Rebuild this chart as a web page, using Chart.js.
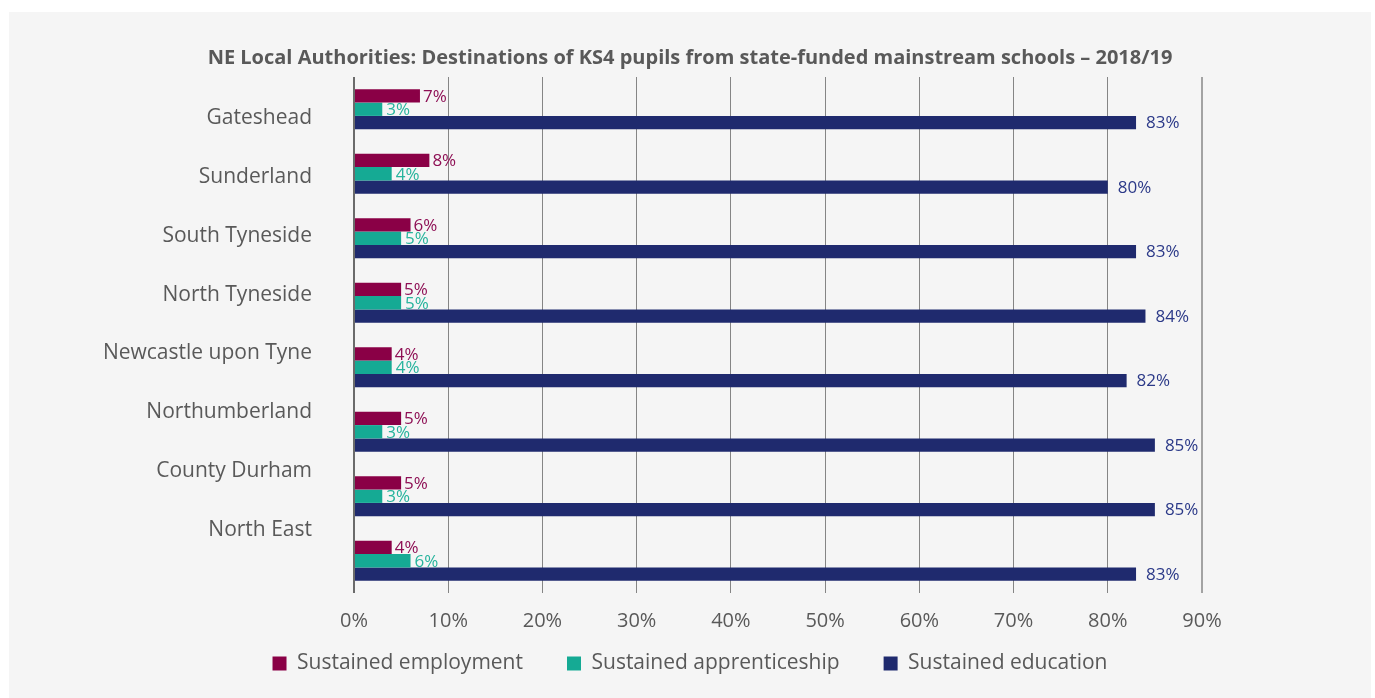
<!DOCTYPE html>
<html>
<head>
<meta charset="utf-8">
<script src="https://cdn.jsdelivr.net/npm/chart.js@4"></script>
<style>
    body { margin: 0; background: #ffffff; }
    #wrap { position: absolute; left: 9px; top: 12px; width: 1362px; height: 686px; background: #f5f5f5; }
</style>
</head>
<body>
<div id="wrap"><canvas id="chartDestinos"></canvas></div>
<script>
const areas = ['Gateshead', 'Sunderland', 'South Tyneside', 'North Tyneside', 'Newcastle upon Tyne', 'Northumberland', 'County Durham', 'North East']
const employment = [7, 8, 6, 5, 4, 5, 5, 4]
const apprenticeship = [3, 4, 5, 5, 4, 3, 3, 6]
const education = [83, 80, 83, 84, 82, 85, 85, 83]
const xTicks = [0, 10, 20, 30, 40, 50, 60, 70, 80, 90]

const chartDestinos = document.getElementById('chartDestinos')
const FONT = "'Open Sans', sans-serif"
const GREY = '#595959'

// etiquetas de valor ao lado das barras
const valueLabels = {
    id: 'valueLabels',
    afterDatasetsDraw(chart) {
        const ctx = chart.ctx
        ctx.save()
        ctx.font = '17px ' + FONT
        ctx.textBaseline = 'middle'
        ctx.textAlign = 'left'
        chart.data.datasets.forEach((ds, i) => {
            const meta = chart.getDatasetMeta(i)
            meta.data.forEach((bar, j) => {
                ctx.fillStyle = ds.labelColor
                ctx.fillText(ds.data[j] + '%', bar.x + ds.labelGap, bar.y + 1)
            })
        })
        ctx.restore()
    }
}

new Chart(chartDestinos, {
    type: 'bar',
    data: {
        labels: areas,
        datasets: [{
            label: 'Sustained employment',
            data: employment,
            backgroundColor: '#8a0046',
            labelColor: '#8e1055',
            labelGap: 3
        }, {
            label: 'Sustained apprenticeship',
            data: apprenticeship,
            backgroundColor: '#15aa94',
            labelColor: '#27b49d',
            labelGap: 4
        }, {
            label: 'Sustained education',
            data: education,
            backgroundColor: '#1f2a6e',
            labelColor: '#2b3988',
            labelGap: 10
        }]
    },
    options: {
        indexAxis: 'y',
        maintainAspectRatio: false,
        animation: false,
        categoryPercentage: 0.62,
        barPercentage: 1,
        layout: {
            padding: { left: 0, right: 0, top: 0, bottom: 14 }
        },
        plugins: {
            title: {
                display: true,
                text: 'NE Local Authorities: Destinations of KS4 pupils from state-funded mainstream schools – 2018/19',
                color: GREY,
                font: { family: FONT, size: 20, weight: 'bold' },
                padding: { top: 34, bottom: 7 }
            },
            legend: {
                position: 'bottom',
                labels: {
                    color: GREY,
                    font: { family: FONT, size: 21 },
                    boxWidth: 14,
                    boxHeight: 14,
                    padding: 44
                }
            },
            tooltip: { enabled: false }
        },
        scales: {
            x: {
                min: 0,
                max: 90,
                afterBuildTicks: (scale) => { scale.ticks = xTicks.map(v => ({ value: v })) },
                afterFit: (scale) => { scale.height = 16 },
                ticks: {
                    color: GREY,
                    font: { family: FONT, size: 20 },
                    mirror: true,
                    padding: -40,
                    callback: (v) => v + '%'
                },
                grid: {
                    drawTicks: false,
                    color: (c) => c.tick && c.tick.value === 0 ? '#6b6b6b' : (c.tick && c.tick.value === 90 ? '#a3a3a3' : '#858585'),
                    lineWidth: (c) => c.tick && (c.tick.value === 0 || c.tick.value === 90) ? 2 : 1
                },
                border: { display: false }
            },
            y: {
                display: false
            },
            y2: {
                type: 'linear',
                position: 'left',
                reverse: true,
                offset: false,
                min: -0.695,
                max: 8.068,
                afterBuildTicks: (scale) => { scale.ticks = areas.map((_, i) => ({ value: i })) },
                afterFit: (scale) => { scale.width = 345 },
                ticks: {
                    color: GREY,
                    font: { family: FONT, size: 21 },
                    padding: 42,
                    callback: (v) => areas[v]
                },
                grid: { display: false, drawTicks: false },
                border: { display: false }
            },
            // eixo vazio só para reservar a margem direita
            yRight: {
                type: 'linear',
                position: 'right',
                offset: false,
                afterFit: (scale) => { scale.width = 169 },
                ticks: { display: false },
                grid: { display: false, drawTicks: false },
                border: { display: false }
            }
        }
    },
    plugins: [valueLabels]
})
</script>
</body>
</html>
